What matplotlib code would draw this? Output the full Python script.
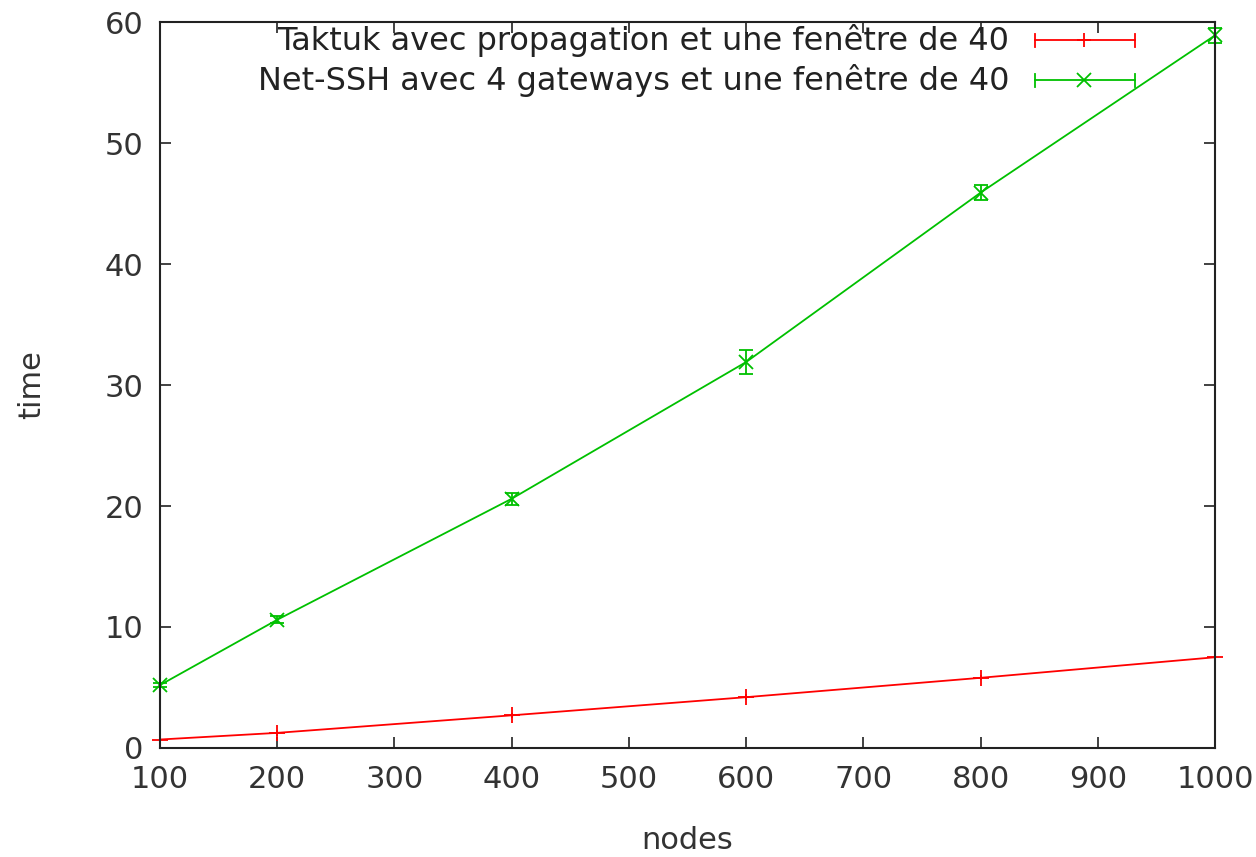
import matplotlib.pyplot as plt

# données
nodes = [100, 200, 400, 600, 800, 1000]
taktuk = [0.7, 1.25, 2.7, 4.2, 5.8, 7.5]
taktuk_err = [0.1, 0.25, 0.2, 0.25, 0.2, 0.2]
netssh = [5.2, 10.6, 20.6, 31.9, 45.9, 58.9]
netssh_err = [0.2, 0.3, 0.5, 1.0, 0.6, 0.6]

labels = ["Taktuk avec propagation et une fenêtre de 40",
          "Net-SSH avec 4 gateways et une fenêtre de 40"]
red = "#ff0000"
green = "#00c000"
txt = '#333333'

plt.rcParams['font.family'] = ['DejaVu Sans']
fig = plt.figure(figsize=(12.56, 8.57), dpi=100)
ax = fig.add_axes([0.1274, 0.1272, 0.84, 0.8471])

ax.plot(nodes, taktuk, color=red, lw=1.3)
eb1 = ax.errorbar(nodes, taktuk, yerr=taktuk_err, fmt='+', color=red, ms=12,
                  mew=1.3, elinewidth=1.3, capsize=0)
ax.plot(nodes, netssh, color=green, lw=1.3)
eb2 = ax.errorbar(nodes, netssh, yerr=netssh_err, fmt='x', color=green, ms=10,
                  mew=1.3, elinewidth=1.3, capsize=5, capthick=1.3)
for eb in [eb1, eb2]:
    for art in eb.get_children():
        art.set_clip_on(False)

ax.set_xlim(100, 1000)
ax.set_ylim(0, 60)
ax.set_xticks(range(100, 1001, 100))
ax.set_yticks(range(0, 61, 10))
ax.tick_params(direction='in', top=True, right=True, length=8, width=1.3,
               labelsize=22, pad=12, colors=txt)
for s in ax.spines.values():
    s.set_linewidth(1.5)
    s.set_color('#222222')
ax.set_xlabel("nodes", fontsize=22, labelpad=23, color=txt)
ax.set_ylabel("time", fontsize=22, labelpad=42, color=txt)

# légende à la gnuplot
for i, (lab, col, mk) in enumerate(zip(labels, [red, green], ['+', 'x'])):
    y = 0.975 - i * 0.055
    ax.text(0.805, y, lab, transform=ax.transAxes, ha='right', va='center',
            fontsize=23, color='#222222')
    ax.plot([0.829, 0.924], [y, y], transform=ax.transAxes, color=col, lw=1.3,
            clip_on=False)
    for xc in [0.829, 0.924]:
        ax.plot([xc, xc], [y - 0.009, y + 0.009], transform=ax.transAxes,
                color=col, lw=1.3, clip_on=False)
    ax.plot([0.876], [y], transform=ax.transAxes, marker=mk, color=col,
            ms=10, mew=1.3, clip_on=False)

fig.savefig("out.png", dpi=100)
